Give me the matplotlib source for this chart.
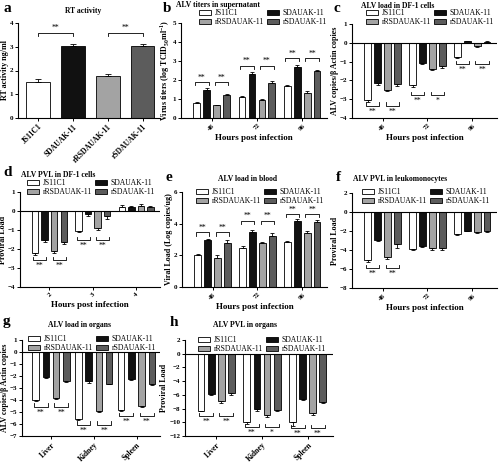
import numpy as np
import matplotlib
matplotlib.use("Agg")
import matplotlib.pyplot as plt

plt.rcParams['font.family'] = ['Liberation Serif', 'DejaVu Serif']
plt.rcParams['mathtext.fontset'] = 'custom'
plt.rcParams['mathtext.rm'] = 'Liberation Serif:bold'
plt.rcParams['mathtext.bf'] = 'Liberation Serif:bold'

strains = ["JS11C1", "SDAUAK-11", "rRSDAUAK-11", "rSDAUAK-11"]
colors = ["white", "#111111", "#a3a3a3", "#5c5c5c"]
hours = ["48", "72", "96"]
days = ["2", "3", "4"]
organs = ["Liver", "Kidney", "Spleen"]

# a: RT activity
rt_mean = [1.52, 3.05, 1.75, 3.05]
rt_err = [0.12, 0.07, 0.09, 0.08]
rt_sig = [(0, 1, 3.6, "**"), (2, 3, 3.6, "**")]

# grouped panels: one row per strain, one column per group
b_mean = [[0.80, 1.08, 1.70], [1.50, 2.30, 2.70], [0.68, 0.95, 1.32], [1.22, 1.85, 2.45]]
b_err = [[0.05, 0.10, 0.06], [0.08, 0.10, 0.08], [0.03, 0.03, 0.10], [0.05, 0.08, 0.10]]
b_sig = [(0, 0, 1.9, "**"), (0, 1, 1.9, "**"), (1, 0, 2.75, "**"), (1, 1, 2.75, "**"),
         (2, 0, 3.15, "**"), (2, 1, 3.15, "**")]

c_mean = [[-3.05, -2.25, -0.75], [-2.15, -1.08, 0.07], [-2.50, -1.38, -0.18], [-2.20, -1.25, 0.05]]
c_err = [[0.10, 0.10, 0.08], [0.08, 0.05, 0.03], [0.05, 0.05, 0.03], [0.08, 0.08, 0.02]]
c_sig = [(0, 0, -3.35, "**"), (0, 1, -3.35, "**"), (1, 0, -2.8, "**"), (1, 1, -2.8, "*"),
         (2, 0, -1.15, "**"), (2, 1, -1.15, "**")]

d_mean = [[-2.20, -1.05, 0.22], [-1.55, -0.18, 0.20], [-2.10, -0.92, 0.28], [-1.65, -0.25, 0.20]]
d_err = [[0.10, 0.08, 0.10], [0.10, 0.10, 0.05], [0.10, 0.08, 0.10], [0.10, 0.15, 0.05]]
d_sig = [(0, 0, -2.6, "**"), (0, 1, -2.6, "**"), (1, 0, -1.55, "**"), (1, 1, -1.55, "**")]

e_mean = [[2.00, 2.45, 2.85], [2.95, 3.50, 4.20], [1.85, 2.80, 3.38], [2.80, 3.25, 4.12]]
e_err = [[0.10, 0.12, 0.05], [0.10, 0.12, 0.08], [0.15, 0.05, 0.15], [0.15, 0.15, 0.10]]
e_sig = [(0, 0, 3.45, "**"), (0, 1, 3.45, "**"), (1, 0, 4.2, "**"), (1, 1, 4.2, "**"),
         (2, 0, 4.6, "**"), (2, 1, 4.6, "**")]

f_mean = [[-5.10, -3.85, -2.30], [-2.95, -3.60, -1.95], [-4.75, -3.75, -2.15], [-3.40, -3.75, -2.00]]
f_err = [[0.15, 0.15, 0.15], [0.15, 0.10, 0.05], [0.15, 0.20, 0.05], [0.40, 0.20, 0.15]]
f_sig = [(0, 0, -5.9, "**"), (0, 1, -5.9, "**")]

g_mean = [[-4.00, -5.60, -4.80], [-2.10, -2.40, -2.25], [-3.85, -4.90, -4.50], [-2.40, -2.65, -2.70]]
g_err = [[0.08, 0.10, 0.08], [0.10, 0.15, 0.05], [0.05, 0.08, 0.12], [0.08, 0.05, 0.05]]
g_sig = [(0, 0, -4.55, "**"), (0, 1, -4.55, "**"), (1, 0, -6.05, "**"), (1, 1, -6.05, "**"),
         (2, 0, -5.35, "**"), (2, 1, -5.35, "**")]

h_mean = [[-8.30, -10.00, -10.00], [-5.90, -8.10, -6.60], [-6.90, -9.00, -8.60], [-5.80, -8.20, -7.00]]
h_err = [[0.08, 0.20, 0.50], [0.15, 0.30, 0.15], [0.30, 0.30, 0.30], [0.20, 0.20, 0.20]]
h_sig = [(0, 0, -9.1, "**"), (0, 1, -9.1, "**"), (1, 0, -10.7, "**"), (1, 1, -10.7, "*"),
         (2, 0, -10.9, "**"), (2, 1, -10.9, "**")]

W, H = 500, 462
fig = plt.figure(figsize=(5.0, 4.62), dpi=100)


def px_axes(l, t, r, b):
    return fig.add_axes([l / W, 1 - b / H, (r - l) / W, (b - t) / H])


def style(ax):
    for s in ("top", "right"):
        ax.spines[s].set_visible(False)
    for s in ("left", "bottom"):
        ax.spines[s].set_linewidth(0.8)
    ax.tick_params(length=2.2, width=0.7, pad=1.2, labelsize=5)
    for lab in ax.get_yticklabels():
        lab.set_fontweight("bold")


def bracket(ax, x1, x2, y, text, span):
    h = span * 0.035
    if y > 0:
        ax.plot([x1, x1, x2, x2], [y - h, y, y, y - h], color="k", lw=0.6)
        ax.text((x1 + x2) / 2, y + span * 0.005, text, ha="center", va="bottom", fontsize=5.5)
    else:
        ax.plot([x1, x1, x2, x2], [y + h, y, y, y + h], color="k", lw=0.6)
        ax.text((x1 + x2) / 2, y - span * 0.02, text, ha="center", va="top", fontsize=5.5)


def grouped(ax, means, errs, cats, ylim, yticks, ylabel, sig, pitch=0.22, width=0.15):
    x = np.arange(len(cats))
    handles = []
    for i in range(4):
        m = np.array(means[i])
        e = np.array(errs[i])
        lo = np.where(m < 0, e, 0)
        hi = np.where(m >= 0, e, 0)
        bc = ax.bar(x + (i - 1.5) * pitch, m, width, color=colors[i], edgecolor="k", lw=0.6,
                    yerr=[lo, hi], error_kw=dict(elinewidth=0.6, capsize=1.5, capthick=0.6),
                    label=strains[i])
        handles.append(bc)
    span = ylim[1] - ylim[0]
    for g, pair, y, txt in sig:
        x1 = g + (2 * pair - 1.5) * pitch - 0.04
        x2 = g + (2 * pair - 0.5) * pitch + 0.04
        bracket(ax, x1, x2, y, txt, span)
    if ylim[0] < 0:
        ax.axhline(0, color="k", lw=0.8)
    ax.set_xlim(-0.68, 2.55)
    ax.set_ylim(*ylim)
    ax.set_yticks(yticks)
    ax.set_xticks(x)
    ax.set_xticklabels(cats, rotation=45, fontweight="bold")
    ax.set_ylabel(ylabel, fontsize=5.8, fontweight="bold", labelpad=0.8)
    style(ax)
    return handles


def legend(ax, handles, x, y):
    order = [handles[0], handles[2], handles[1], handles[3]]
    labs = [strains[0], strains[2], strains[1], strains[3]]
    ax.legend(order, labs, loc="upper left", bbox_to_anchor=(x / W, 1 - y / H),
              bbox_transform=fig.transFigure, ncol=2, frameon=False, fontsize=5.5,
              borderpad=0, borderaxespad=0, handlelength=1.6, handleheight=0.6,
              handletextpad=0.5, labelspacing=0.15, columnspacing=0.3)


def title(x, y, text):
    fig.text(x / W, 1 - y / H, text, ha="center", va="center", fontsize=5.5, fontweight="bold")


def letter(x, y, text):
    fig.text(x / W, 1 - y / H, text, ha="left", va="center", fontsize=11, fontweight="bold")


xlab = "Hours post infection"

# a
ax = px_axes(18, 23, 160, 118)
ax.bar(range(4), rt_mean, 0.68, color=colors, edgecolor="k", lw=0.6,
       yerr=[[0] * 4, rt_err], error_kw=dict(elinewidth=0.6, capsize=2, capthick=0.6))
for i1, i2, y, txt in rt_sig:
    bracket(ax, i1, i2, y, txt, 4)
ax.set_xlim(-0.57, 3.5)
ax.set_ylim(0, 4)
ax.set_yticks(range(5))
ax.set_xticks(range(4))
ax.set_xticklabels(strains, rotation=45, ha="right", rotation_mode="anchor", fontweight="bold")
ax.set_ylabel("RT activity ng/ml", fontsize=5.8, fontweight="bold", labelpad=0.8)
style(ax)
ax.tick_params(axis="x", labelsize=5.5)
title(83, 11, "RT activity")
letter(3, 8, "a")

# b
ax = px_axes(181, 23, 327, 118)
hd = grouped(ax, b_mean, b_err, hours, (0, 5), range(6),
             "Virus titers (log TCID$_{50}$ml$^{-1}$)", b_sig)
ax.set_xlabel(xlab, fontsize=6.5, fontweight="bold", labelpad=2)
legend(ax, hd, 199, 9)
title(218, 5, "ALV titers in supernatant")
letter(163, 9, "b")

# c
ax = px_axes(352, 24, 497, 118)
hd = grouped(ax, c_mean, c_err, hours, (-4, 1), range(-4, 2), "ALV copies/β Actin copies", c_sig)
ax.set_xlabel(xlab, fontsize=6.5, fontweight="bold", labelpad=2)
legend(ax, hd, 366, 9)
title(398, 6, "ALV load in DF-1 cells")
letter(333, 9, "c")

# d
ax = px_axes(20, 192, 160, 287)
hd = grouped(ax, d_mean, d_err, days, (-4, 1), range(-4, 2), "Proviral Load", d_sig)
ax.set_xlabel(xlab, fontsize=6.5, fontweight="bold", labelpad=2)
legend(ax, hd, 27, 179)
title(58, 175, "ALV PVL in DF-1 cells")
letter(3, 173, "d")

# e
ax = px_axes(182, 192, 327, 287)
hd = grouped(ax, e_mean, e_err, hours, (0, 6), range(0, 7, 2), "Viral Load (Log copies/ug)", e_sig)
ax.set_xlabel(xlab, fontsize=6.5, fontweight="bold", labelpad=2)
legend(ax, hd, 196, 188)
title(248, 179, "ALV load in blood")
letter(166, 177, "e")

# f
ax = px_axes(352, 193, 497, 288)
hd = grouped(ax, f_mean, f_err, hours, (-8, 2), range(-8, 3, 2), "Proviral Load", f_sig)
ax.set_xlabel(xlab, fontsize=6.5, fontweight="bold", labelpad=2)
legend(ax, hd, 362, 188)
title(400, 179, "ALV PVL in leukomonocytes")
letter(336, 177, "f")

# g
ax = px_axes(22, 340, 160, 436)
hd = grouped(ax, g_mean, g_err, organs, (-7, 1), range(-7, 2), "ALV copies/β Actin copies", g_sig,
             pitch=0.24)
legend(ax, hd, 28, 335)
title(80, 325, "ALV load in organs")
letter(3, 322, "g")

# h
ax = px_axes(185, 340, 333, 436)
hd = grouped(ax, h_mean, h_err, organs, (-12, 2), range(-12, 3, 2), "Proviral Load", h_sig)
legend(ax, hd, 198, 336)
title(245, 325, "ALV PVL in organs")
letter(170, 322, "h")

for a in fig.axes:
    if a.get_xticklabels() and a.get_xticklabels()[0].get_text() in organs:
        for lab in a.get_xticklabels():
            lab.set_ha("right")
            lab.set_rotation_mode("anchor")
            lab.set_fontsize(5.5)

fig.savefig("out.png", dpi=100)
